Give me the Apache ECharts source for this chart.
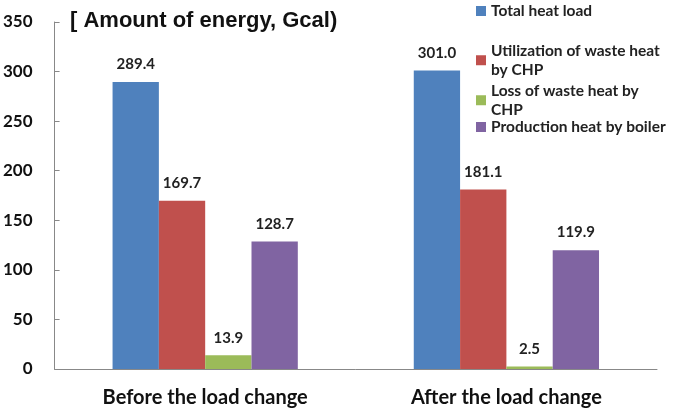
<!DOCTYPE html>
<html>
<head>
<meta charset="utf-8">
<script src="https://cdn.jsdelivr.net/npm/echarts@6/dist/echarts.min.js"></script>
<style>
  html, body { margin: 0; padding: 0; background: #fff; }
  #main { width: 677px; height: 411px; }
</style>
</head>
<body>
<div id="main"></div>
<script>
// categories and values
var categories = ['Before the load change', 'After the load change'];
var totalHeat = [289.4, 301.0];
var wasteUtil = [169.7, 181.1];
var wasteLoss = [13.9, 2.5];
var boilerHeat = [128.7, 119.9];
var yTicks = [0, 50, 100, 150, 200, 250, 300, 350];

var names = ['Total heat load', 'Utilization of waste heat\nby CHP', 'Loss of waste heat by\nCHP', 'Production heat by boiler'];
var colors = ['#4f81bd', '#c0504d', '#9bbb59', '#8064a2'];
var values = [totalHeat, wasteUtil, wasteLoss, boilerHeat];

var myChart = echarts.init(document.getElementById('main'));

var legendTops = [3, 31, 71, 119];
var legends = [];
var series = [];
for (var i = 0; i < names.length; i++) {
    var twoLine = names[i].indexOf('\n') >= 0;
    legends.push({
        data: [names[i]],
        left: 476,
        top: legendTops[i],
        padding: 0,
        icon: 'rect',
        itemWidth: 10,
        itemHeight: 10,
        textStyle: {
            fontFamily: 'Lato',
            fontWeight: 'bold',
            fontSize: 15.5,
            color: '#222',
            lineHeight: twoLine ? 19.5 : 16,
            padding: twoLine ? [19.5, 0, 0, 0] : 0
        }
    });
    series.push({
        name: names[i],
        type: 'bar',
        data: values[i],
        barGap: 0,
        barCategoryGap: '38.5%',
        itemStyle: { color: colors[i] },
        label: {
            show: true,
            position: 'top',
            distance: 10,
            fontFamily: 'Lato',
            fontWeight: 'bold',
            fontSize: 15,
            color: '#222',
            formatter: function (p) { return p.value.toFixed(1); }
        }
    });
}

var option = {
    animation: false,
    title: {
        text: '[ Amount of energy, Gcal)',
        left: 70,
        top: 10,
        padding: 0,
        textStyle: {
            fontFamily: 'Liberation Sans',
            fontWeight: 'bold',
            fontSize: 22,
            color: '#111'
        }
    },
    legend: legends,
    grid: { left: 52, right: 20, top: 22, bottom: 42 },
    xAxis: {
        type: 'category',
        data: categories,
        axisLine: { lineStyle: { color: '#888', width: 1 } },
        axisTick: { inside: true, length: 6, lineStyle: { color: '#888' } },
        axisLabel: {
            margin: 19,
            fontFamily: 'Lato',
            fontWeight: 'bold',
            fontSize: 20,
            color: '#111'
        }
    },
    yAxis: {
        type: 'value',
        min: yTicks[0],
        max: yTicks[yTicks.length - 1],
        interval: yTicks[1] - yTicks[0],
        splitLine: { show: false },
        axisLine: { show: true, lineStyle: { color: '#888', width: 1 } },
        axisTick: { show: true, inside: true, length: 5, lineStyle: { color: '#888' } },
        axisLabel: {
            margin: 22,
            fontFamily: 'Lato',
            fontWeight: 'bold',
            fontSize: 17,
            color: '#111'
        }
    },
    series: series
};

myChart.setOption(option);
</script>
</body>
</html>
